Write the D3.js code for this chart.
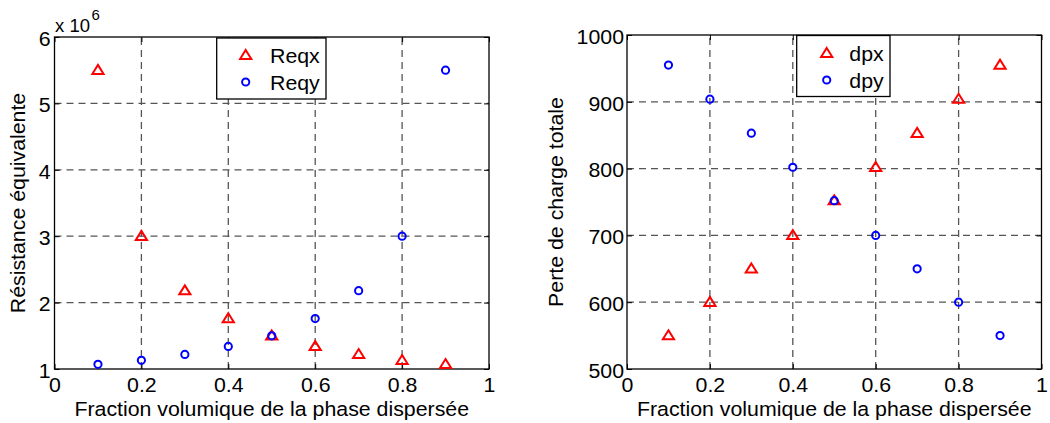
<!DOCTYPE html>
<html><head><meta charset="utf-8">
<script src="https://cdn.jsdelivr.net/npm/d3@7"></script>
<style>
body{margin:0;background:#fff}
svg{display:block}
text{font-family:"Liberation Sans",Arial,Helvetica,sans-serif;fill:#000}
</style>
</head><body>
<svg id="c" width="1050" height="423"></svg>
<script>
// ---- data ----
const fractions = [0.1, 0.2, 0.3, 0.4, 0.5, 0.6, 0.7, 0.8, 0.9];
const reqx = [5.5e6, 3.0e6, 2.18e6, 1.76e6, 1.5e6, 1.34e6, 1.22e6, 1.13e6, 1.07e6];
const reqy = [1.07e6, 1.13e6, 1.22e6, 1.34e6, 1.5e6, 1.76e6, 2.18e6, 3.0e6, 5.5e6];
const dpx = [550, 600, 650, 700, 752, 802, 853, 904, 955];
const dpy = [955, 904, 853, 802, 752, 700, 650, 600, 550];
const xTicks = [0, 0.2, 0.4, 0.6, 0.8, 1];
const xTickLabels = ["0", "0.2", "0.4", "0.6", "0.8", "1"];
const leftYTicks = [1e6, 2e6, 3e6, 4e6, 5e6, 6e6];
const leftYTickLabels = ["1", "2", "3", "4", "5", "6"];
const rightYTicks = [500, 600, 700, 800, 900, 1000];
const rightYTickLabels = ["500", "600", "700", "800", "900", "1000"];
const xLabel = "Fraction volumique de la phase dispersée";
const leftYLabel = "Résistance équivalente";
const rightYLabel = "Perte de charge totale";
const leftSeriesNames = ["Reqx", "Reqy"];
const rightSeriesNames = ["dpx", "dpy"];

// ---- drawing ----
const svg = d3.select("#c");
const FS = 20.5, STRETCH = 1.04;
function stretch(sel, k) {
  sel.each(function () {
    const L = this.getComputedTextLength();
    d3.select(this).attr("textLength", L * (k || STRETCH)).attr("lengthAdjust", "spacingAndGlyphs");
  });
}
const triPath = "M0,-4.9L5.6,4.1L-5.6,4.1Z";

function drawMarker(g, shape, cx, cy) {
  if (shape === "tri") {
    g.append("path").attr("d", triPath).attr("transform", `translate(${cx},${cy - 0.4})`)
      .attr("fill", "none").attr("stroke", "#ff0000").attr("stroke-width", 2);
  } else {
    g.append("circle").attr("cx", cx).attr("cy", cy).attr("r", 3.6)
      .attr("fill", "none").attr("stroke", "#0000ff").attr("stroke-width", 2);
  }
}

function panel(cfg) {
  const x = d3.scaleLinear().domain([0, 1]).range([cfg.left, cfg.right]);
  const y = d3.scaleLinear().domain([cfg.yTicks[0], cfg.yTicks[cfg.yTicks.length - 1]]).range([cfg.bottom, cfg.top]);
  const g = svg.append("g");

  // grid
  g.append("g").selectAll("line").data(xTicks.slice(1, -1)).join("line")
    .attr("x1", d => x(d)).attr("x2", d => x(d)).attr("y1", cfg.bottom).attr("y2", cfg.top)
    .attr("stroke", "#555").attr("stroke-width", 1.3).attr("stroke-dasharray", "7,5");
  g.append("g").selectAll("line").data(cfg.yTicks.slice(1, -1)).join("line")
    .attr("y1", d => y(d)).attr("y2", d => y(d)).attr("x1", cfg.left).attr("x2", cfg.right)
    .attr("stroke", "#555").attr("stroke-width", 1.3).attr("stroke-dasharray", "7,5");

  // axes (inward ticks on all four sides)
  const ax = g.append("g").attr("transform", `translate(0,${cfg.bottom})`)
    .call(d3.axisBottom(x).tickValues(xTicks).tickFormat((d, i) => xTickLabels[i]).tickSize(-5).tickPadding(8.4));
  const ay = g.append("g").attr("transform", `translate(${cfg.left},0)`)
    .call(d3.axisLeft(y).tickValues(cfg.yTicks).tickFormat((d, i) => cfg.yTickLabels[i]).tickSize(-5).tickPadding(cfg.yPad));
  const at = g.append("g").attr("transform", `translate(0,${cfg.top})`)
    .call(d3.axisTop(x).tickValues(xTicks).tickFormat("").tickSize(-5));
  const ar = g.append("g").attr("transform", `translate(${cfg.right},0)`)
    .call(d3.axisRight(y).tickValues(cfg.yTicks).tickFormat("").tickSize(-5));
  [ax, ay, at, ar].forEach(a => {
    a.select(".domain").remove();
    a.selectAll("line").attr("stroke", "#000").attr("stroke-width", 1);
    a.selectAll("text").attr("font-size", FS).attr("font-family", null).attr("fill", "#000");
  });
  ay.selectAll("text").attr("dy", "0.4em");
  stretch(ax.selectAll("text"));
  stretch(ay.selectAll("text"));

  // box
  g.append("rect").attr("x", cfg.left).attr("y", cfg.top)
    .attr("width", cfg.right - cfg.left).attr("height", cfg.bottom - cfg.top)
    .attr("fill", "none").attr("stroke", "#000").attr("stroke-width", 1.3);

  // labels
  const xl = g.append("text").attr("x", (cfg.left + cfg.right) / 2).attr("y", 416)
    .attr("text-anchor", "middle").attr("font-size", FS).text(xLabel);
  stretch(xl);
  const yl = g.append("text")
    .attr("transform", `translate(${cfg.yLabelX},${(cfg.top + cfg.bottom) / 2}) rotate(-90)`)
    .attr("text-anchor", "middle").attr("font-size", FS).text(cfg.yLabel);
  stretch(yl);

  // data
  const mg = g.append("g");
  cfg.series.forEach(s => {
    s.values.forEach((v, i) => drawMarker(mg, s.shape, x(fractions[i]), y(v)));
  });

  // legend
  const L = cfg.legend;
  const lg = g.append("g");
  lg.append("rect").attr("x", L.x).attr("y", L.y).attr("width", L.w).attr("height", L.h)
    .attr("fill", "#fff").attr("stroke", "#000").attr("stroke-width", 1.3);
  cfg.series.forEach((s, i) => {
    drawMarker(lg, s.shape, L.mx, L.rows[i]);
    const t = lg.append("text").attr("x", L.tx).attr("y", L.rows[i] + 8)
      .attr("font-size", FS).text(cfg.names[i]);
    stretch(t);
  });
  return g;
}

panel({
  left: 54.5, right: 489, top: 37, bottom: 369,
  yTicks: leftYTicks, yTickLabels: leftYTickLabels, yPad: 4,
  yLabel: leftYLabel, yLabelX: 25,
  names: leftSeriesNames,
  series: [{ values: reqx, shape: "tri" }, { values: reqy, shape: "circle" }],
  legend: { x: 216.7, y: 38, w: 109.3, h: 61, mx: 245.7, tx: 270, rows: [55.3, 82] }
});
panel({
  left: 627, right: 1041.5, top: 35, bottom: 369,
  yTicks: rightYTicks, yTickLabels: rightYTickLabels, yPad: 3,
  yLabel: rightYLabel, yLabelX: 563,
  names: rightSeriesNames,
  series: [{ values: dpx, shape: "tri" }, { values: dpy, shape: "circle" }],
  legend: { x: 796.7, y: 35.5, w: 93.3, h: 61, mx: 826.7, tx: 849.3, rows: [53.3, 80] }
});

// exponent label for left axis
svg.append("text").attr("x", 55).attr("y", 32).attr("font-size", 18.5).text("x 10");
svg.append("text").attr("x", 91.5).attr("y", 20).attr("font-size", 15).text("6");
</script>
</body></html>
